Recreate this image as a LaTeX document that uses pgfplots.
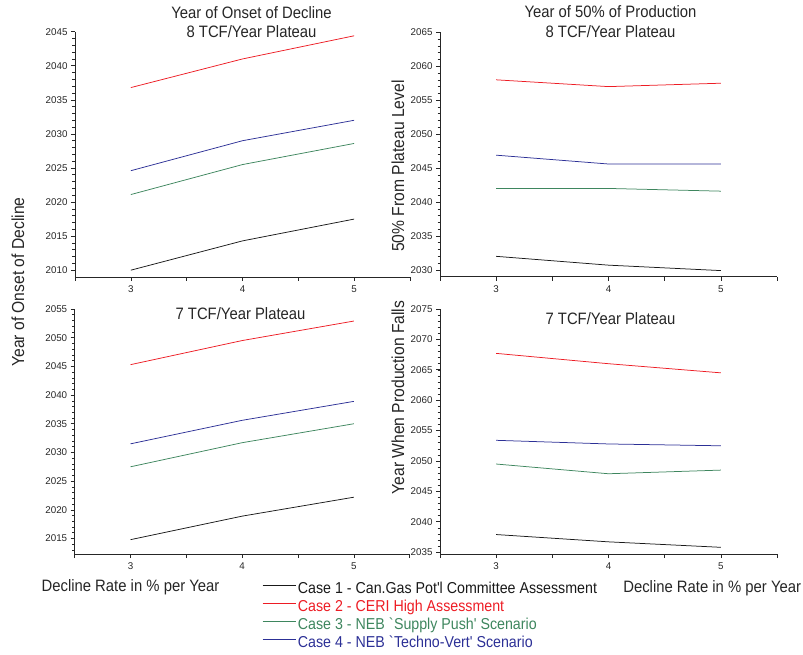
\documentclass[border=0pt]{standalone}
\usepackage{fontspec}
\setmainfont{Liberation Sans}
\newfontfamily\condfont{Liberation Sans}[FakeStretch=0.9]
\usepackage{pgfplots}
\pgfplotsset{compat=1.18}
\definecolor{cRed}{RGB}{237,28,36}
\definecolor{cGreen}{RGB}{62,134,94}
\definecolor{cBlue}{RGB}{44,48,150}
\definecolor{cBlack}{RGB}{25,25,25}
\newcommand{\titlefont}{\condfont\fontsize{16.5}{18}\selectfont}
\newcommand{\ylabfont}{\condfont\fontsize{17.4}{19}\selectfont}
\newcommand{\lgdfont}{\condfont\fontsize{15.8}{17}\selectfont}

\pgfplotsset{
  panel/.style={
    scale only axis, width=336pt, height=245pt,
    xmin=2.5, xmax=5.5,
    axis x line=bottom, axis y line=left,
    axis line style={-, line width=0.8pt, black!85},
    xtick={2.5,3,3.5,4,4.5,5,5.5},
    xticklabels={,3,,4,,5,},
    tick align=outside,
    major tick length=4pt, minor tick length=2.5pt,
    tick style={black!85, line width=0.6pt},
    /pgf/number format/assume math mode=true,
    /pgf/number format/1000 sep={},
    tick label style={font=\fontsize{9.8}{11}\selectfont, black!85},
    xticklabel style={yshift=-1.5pt},
    every axis plot/.append style={line width=0.75pt},
    clip=false,
  },
}

\begin{document}
\begin{tikzpicture}[x=1pt,y=1pt]
\path[use as bounding box] (0pt,0pt) rectangle (803pt,654pt);

% ---------------- top-left ----------------
\begin{axis}[panel, at={(75pt,377pt)}, anchor=south west, height=245.3pt, width=335pt,
  ymin=2009, ymax=2045, ytick={2010,2015,...,2045}, minor ytick={2010,...,2045}]
\addplot[cBlack] coordinates {(3,2010.0) (4,2014.3) (5,2017.5)};
\addplot[cRed]   coordinates {(3,2036.8) (4,2041.0) (5,2044.4)};
\addplot[cGreen] coordinates {(3,2021.1) (4,2025.5) (5,2028.6)};
\addplot[cBlue]  coordinates {(3,2024.6) (4,2029.0) (5,2032.0)};
\end{axis}

% ---------------- top-right ----------------
\begin{axis}[panel, at={(440pt,377.3pt)}, anchor=south west, height=244.4pt, width=337pt,
  ymin=2029, ymax=2065, ytick={2030,2035,...,2065}, minor ytick={2030,...,2065}]
\addplot[cBlack] coordinates {(3,2032.0) (4,2030.7) (5,2029.9)};
\addplot[cRed]   coordinates {(3,2058.0) (4,2057.0) (5,2057.5)};
\addplot[cGreen] coordinates {(3,2042.0) (4,2042.0) (5,2041.6)};
\addplot[cBlue]  coordinates {(3,2046.9) (4,2045.6) (5,2045.6)};
\end{axis}

% ---------------- bottom-left ----------------
\begin{axis}[panel, at={(74.7pt,100pt)}, anchor=south west, height=245pt, width=335pt,
  ymin=2012.3, ymax=2055, ytick={2015,2020,...,2055}, minor ytick={2013,...,2055},
  legend style={draw=none, fill=none, at={(rel axis cs:0.559,-0.105)}, anchor=north west,
    inner sep=0pt, font=\lgdfont, row sep=1.1pt, cells={anchor=west}},
  legend cell align=left,
  legend image code/.code={\draw[#1] (0pt,3.3pt) -- (33pt,3.3pt);}]
\addplot[cBlack] coordinates {(3,2014.8) (4,2018.9) (5,2022.2)};
\addlegendentry{\textcolor{cBlack}{Case 1 - Can.Gas Pot'l Committee Assessment}}
\addplot[cRed]   coordinates {(3,2045.3) (4,2049.5) (5,2052.9)};
\addlegendentry{\textcolor{cRed}{Case 2 - CERI High Assessment}}
\addplot[cGreen] coordinates {(3,2027.5) (4,2031.7) (5,2035.0)};
\addlegendentry{\textcolor{cGreen}{Case 3 - NEB \textasciigrave Supply Push' Scenario}}
\addplot[cBlue]  coordinates {(3,2031.5) (4,2035.6) (5,2038.9)};
\addlegendentry{\textcolor{cBlue}{Case 4 - NEB \textasciigrave Techno-Vert' Scenario}}
\end{axis}

% ---------------- bottom-right ----------------
\begin{axis}[panel, at={(440pt,100pt)}, anchor=south west, height=245pt, width=337pt,
  ymin=2034.7, ymax=2075, ytick={2035,2040,...,2075}, minor ytick={2035,...,2075}]
\addplot[cBlack] coordinates {(3,2037.9) (4,2036.7) (5,2035.8)};
\addplot[cRed]   coordinates {(3,2067.7) (4,2066.0) (5,2064.5)};
\addplot[cGreen] coordinates {(3,2049.5) (4,2047.9) (5,2048.5)};
\addplot[cBlue]  coordinates {(3,2053.4) (4,2052.8) (5,2052.5)};
\end{axis}

% ---------------- titles and labels ----------------
\node[anchor=base, font=\titlefont, text=black!85] at (251.5pt,635pt) {Year of Onset of Decline};
\node[anchor=base, font=\titlefont, text=black!85] at (251.5pt,616pt) {8 TCF/Year Plateau};
\node[anchor=base, font=\titlefont, text=black!85] at (610.5pt,636.6pt) {Year of 50\% of Production};
\node[anchor=base, font=\titlefont, text=black!85] at (610.5pt,616.6pt) {8 TCF/Year Plateau};
\node[anchor=base, font=\titlefont, text=black!85] at (240.5pt,334.3pt) {7 TCF/Year Plateau};
\node[anchor=base, font=\titlefont, text=black!85] at (610.5pt,329pt) {7 TCF/Year Plateau};

\node[anchor=base, font=\titlefont, text=black!85] at (130.5pt,62.3pt) {Decline Rate in \% per Year};
\node[anchor=base, font=\titlefont, text=black!85] at (712.2pt,61.6pt) {Decline Rate in \% per Year};

\node[anchor=base, rotate=90, font=\ylabfont, text=black!85] at (24.2pt,372pt) {Year of Onset of Decline};
\node[anchor=base, rotate=90, font=\ylabfont, text=black!85] at (404.2pt,488pt) {50\% From Plateau Level};
\node[anchor=base, rotate=90, font=\ylabfont, text=black!85] at (404.2pt,256.5pt) {Year When Production Falls};
\end{tikzpicture}
\end{document}
